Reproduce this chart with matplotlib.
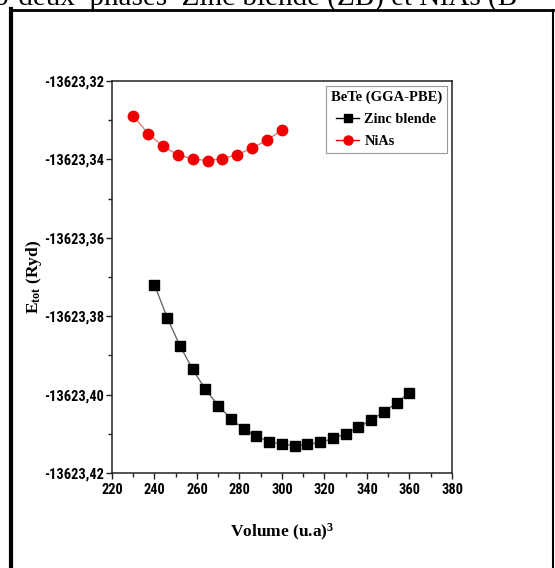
import numpy as np
import matplotlib
matplotlib.use("Agg")
import matplotlib.pyplot as plt
from matplotlib.ticker import MultipleLocator, FuncFormatter

# Donnees (E_tot en Ryd, volume en (u.a)^3)
vol_zb = [240, 246, 252, 258, 264, 270, 276, 282, 288, 294, 300,
          306, 312, 318, 324, 330, 336, 342, 348, 354, 360]
e_zb = [-13623.3720, -13623.3804, -13623.3876, -13623.3936, -13623.3987,
        -13623.4028, -13623.4062, -13623.4088, -13623.4106, -13623.4120,
        -13623.4127, -13623.4130, -13623.4127, -13623.4122, -13623.4112,
        -13623.4100, -13623.4083, -13623.4065, -13623.4044, -13623.4021,
        -13623.3995]

vol_nias = [230, 237, 244, 251, 258, 265, 272, 279, 286, 293, 300]
e_nias = [-13623.3289, -13623.3334, -13623.3367, -13623.3388, -13623.3399,
          -13623.3403, -13623.3398, -13623.3388, -13623.3371, -13623.3351,
          -13623.3325]

xticks = [220, 240, 260, 280, 300, 320, 340, 360, 380]
yticks = [-13623.42, -13623.40, -13623.38, -13623.36, -13623.34, -13623.32]

plt.rcParams['mathtext.fontset'] = 'custom'
plt.rcParams['mathtext.rm'] = 'Liberation Serif:bold'
plt.rcParams['mathtext.bf'] = 'Liberation Serif:bold'
plt.rcParams['mathtext.it'] = 'Liberation Serif:bold'

tick_font = ['Roboto Condensed', 'Liberation Sans Narrow', 'Roboto']
serif = ['Liberation Serif', 'DejaVu Serif']

fig = plt.figure(figsize=(5.55, 5.68), dpi=100)
ax = fig.add_axes([0.2018, 0.1673, 0.6126, 0.6901])

ax.plot(vol_zb, e_zb, color='#6a6a6a', lw=1.0, zorder=2)
ax.plot(vol_zb, e_zb, ls='none', marker='s', ms=7, color='black', zorder=3)
ax.plot(vol_nias, e_nias, color='#d98080', lw=1.0, zorder=2)
ax.plot(vol_nias, e_nias, ls='none', marker='o', ms=7.5, color='#ee0000', zorder=3)

# poignees de legende (ligne + symbole)
h1, = ax.plot([], [], color='black', lw=1.0, marker='s', ms=6, label='Zinc blende')
h2, = ax.plot([], [], color='#ee0000', lw=1.0, marker='o', ms=6.5, label='NiAs')

ax.set_xlim(220, 380)
ax.set_ylim(-13623.42, -13623.32)
ax.set_xticks(xticks)
ax.set_yticks(yticks)
ax.xaxis.set_minor_locator(MultipleLocator(10))
ax.yaxis.set_minor_locator(MultipleLocator(0.01))
ax.yaxis.set_major_formatter(FuncFormatter(lambda v, p: f"{v:.2f}".replace('.', ',')))

ax.tick_params(which='both', direction='out', top=False, right=False, width=1.0, color='#222222')
ax.tick_params(which='major', length=4)
ax.tick_params(which='minor', length=3)
ax.tick_params(axis='y', pad=1.5)
ax.tick_params(axis='x', pad=3)
for lab in ax.get_xticklabels() + ax.get_yticklabels():
    lab.set_family(tick_font)
    lab.set_fontweight('bold')
    lab.set_fontsize(10.4)

for s in ax.spines.values():
    s.set_linewidth(1.1)
    s.set_color('#222222')

ax.set_xlabel(r'Volume (u.a)$^{3}$', family=serif, fontweight='bold', fontsize=12.5)
ax.set_ylabel(r'E$_{tot}$ (Ryd)', family=serif, fontweight='bold', fontsize=12.5)
ax.xaxis.set_label_coords(0.5, -0.125)
ax.yaxis.set_label_coords(-0.2, 0.5)

leg = ax.legend(handles=[h1, h2], title='BeTe (GGA-PBE)', loc='upper right',
                fancybox=False, edgecolor='#999999', framealpha=1,
                handlelength=1.6, handletextpad=0.35, borderpad=0.35,
                labelspacing=0.6, borderaxespad=0.35, numpoints=1,
                prop={'family': serif, 'weight': 'bold', 'size': 10.3})
leg.get_title().set_family(serif)
leg.get_title().set_fontweight('bold')
leg.get_title().set_fontsize(10.5)
leg.get_frame().set_linewidth(0.8)

# cadre du document et debut de la phrase du texte, coupee en haut
fig.add_artist(plt.Line2D([0.0198, 0.0198], [0.0, 0.984], color='black', lw=3.0))
fig.add_artist(plt.Line2D([0.0198, 0.997], [0.982, 0.982], color='black', lw=2.0))
fig.add_artist(plt.Line2D([0.996, 0.996], [0.0, 0.982], color='black', lw=1.5))
fig.text(-0.01, 1.0 - 5 / 568, 'o-deux  phases  Zinc blende (ZB) et NiAs (B',
         family=serif, fontsize=21, ha='left', va='baseline')

fig.savefig('out.png', dpi=100)
